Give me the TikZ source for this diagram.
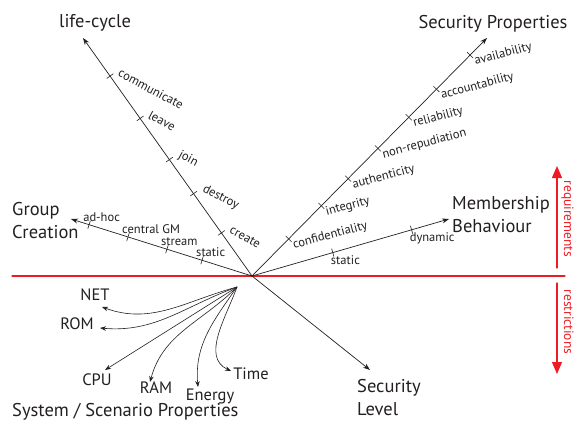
\documentclass[tikz,border=0pt]{standalone}
\usepackage{fontspec}
\setmainfont{PT Sans}
\usetikzlibrary{calc, positioning, arrows.meta}
\definecolor{ink}{RGB}{35,31,32}
\definecolor{reqred}{RGB}{237,28,36}

\begin{document}
\begin{tikzpicture}[x=1pt, y=1pt, line cap=round,
    axis/.style={draw=ink, line width=0.7pt, -{Stealth[length=7pt, width=5pt]}},
    prop/.style={draw=ink, line width=0.6pt, -{Stealth[length=6pt, width=4.5pt]}},
    tickmark/.style={draw=ink, line width=0.6pt},
    big/.style={text=ink, font=\fontsize{18.5}{23.5}\selectfont, align=left, inner sep=0pt},
    small/.style={text=ink, font=\fontsize{12.5}{14}\selectfont, inner sep=0pt},
    sys/.style={text=ink, font=\fontsize{16.5}{19}\selectfont, inner sep=0pt},
    redtext/.style={text=reqred, font=\fontsize{13.5}{15}\selectfont, inner sep=0pt, rotate=-90},
    redarrow/.style={draw=reqred, line width=1.3pt, -{Triangle[length=12pt, width=10pt]}}]
  \useasboundingbox (0,0) rectangle (575,421);

  % centre and axis ends
  \coordinate (c) at (252,145);
  \coordinate (lc) at (83,383);
  \coordinate (sp) at (487,383);
  \coordinate (gc) at (71,202);
  \coordinate (mb) at (449,202);
  \coordinate (sl) at (370,51);

  % requirements / restrictions border
  \coordinate (rl) at (12,145);
  \coordinate (rr) at (565,145);
  \draw[reqred, line width=1.3pt] (rl) -- (rr);
  \coordinate (reqfoot) at (557,153);
  \coordinate (reqtip) at (557,255);
  \coordinate (resfoot) at (557,138);
  \coordinate (restip) at (557,47);
  \draw[redarrow] (reqfoot) -- (reqtip);
  \draw[redarrow] (resfoot) -- (restip);
  \node[redtext, anchor=base] (req) at (564,202) {requirements};
  \node[redtext, anchor=base] (res) at (564,99) {restrictions};

  % life-cycle
  \draw[axis] (c) -- (lc);
  \node[big, anchor=base] (lcl) at (95,393) {life-cycle};
  \foreach \p/\txt [count=\i] in {0.84/communicate, 0.662/leave, 0.489/join, 0.346/destroy, 0.181/create} {
    \coordinate (t) at ($(c)!\p!(lc)$);
    \draw[tickmark] ($(t)!4pt!90:(lc)$) -- ($(t)!4pt!-90:(lc)$);
    \node[small, rotate=-28, anchor=south west] (lc\i) at ($(t)+(7,0)$) {\txt};
  }

  % security properties
  \draw[axis] (c) -- (sp);
  \node[big, anchor=base] (spl) at (493,392) {Security Properties};
  \foreach \p/\txt [count=\i] in {0.156/confidentiality, 0.295/integrity, 0.409/authenticity,
      0.536/non-repudiation, 0.667/reliability, 0.785/accountability, 0.928/availability} {
    \coordinate (t) at ($(c)!\p!(sp)$);
    \draw[tickmark] ($(t)!4pt!90:(sp)$) -- ($(t)!4pt!-90:(sp)$);
    \node[small, rotate=15, anchor=north west] (sp\i) at ($(t)+(3,-1)$) {\txt};
  }

  % group creation
  \draw[axis] (c) -- (gc);
  \node[big, anchor=north west] (gcl) at (12,219) {Group\\Creation};
  \foreach \p/\txt [count=\i] in {0.90/ad-hoc, 0.685/central GM, 0.47/stream, 0.276/static} {
    \coordinate (t) at ($(c)!\p!(gc)$);
    \draw[tickmark] ($(t)!4pt!90:(gc)$) -- ($(t)!4pt!-90:(gc)$);
    \node[small, anchor=south west] (gc\i) at ($(t)+(-6,3)$) {\txt};
  }

  % membership behaviour
  \draw[axis] (c) -- (mb);
  \node[big, anchor=north west] (mbl) at (452,225) {Membership\\Behaviour};
  \foreach \p/\txt [count=\i] in {0.41/static, 0.81/dynamic} {
    \coordinate (t) at ($(c)!\p!(mb)$);
    \draw[tickmark] ($(t)!4pt!90:(mb)$) -- ($(t)!4pt!-90:(mb)$);
    \node[small, anchor=north west] (mb\i) at ($(t)+(-2,-3)$) {\txt};
  }

  % security level
  \draw[axis] (c) -- (sl);
  \node[big, anchor=north west] (sll) at (357,42) {Security\\Level};

  % system / scenario properties
  \coordinate (o) at (237,134);
  \node[sys] (net) at (95,126) {NET};
  \node[sys] (rom) at (77,97) {ROM};
  \node[sys] (cpu) at (97,41) {CPU};
  \node[sys] (ram) at (156,33) {RAM};
  \node[sys, anchor=base] (energy) at (210,21) {Energy};
  \node[sys] (time) at (251,47) {Time};
  \coordinate (netend) at (102,114);
  \coordinate (romend) at (100,93);
  \coordinate (cpuend) at (105,51);
  \coordinate (ramend) at (150,39);
  \coordinate (energyend) at (198,34);
  \coordinate (timeend) at (231,50);
  \draw[prop] (o) to[out=195, in=-20] (netend);
  \draw[prop] (o) to[out=200, in=-5] (romend);
  \draw[prop] (o) -- (cpuend);
  \draw[prop] (o) to[out=225, in=75] (ramend);
  \draw[prop] (o) to[out=235, in=95] (energyend);
  \draw[prop] (o) to[out=250, in=155] (timeend);
  \node[big, anchor=base west] (ssp) at (12,5) {System / Scenario Properties};
\end{tikzpicture}
\end{document}
